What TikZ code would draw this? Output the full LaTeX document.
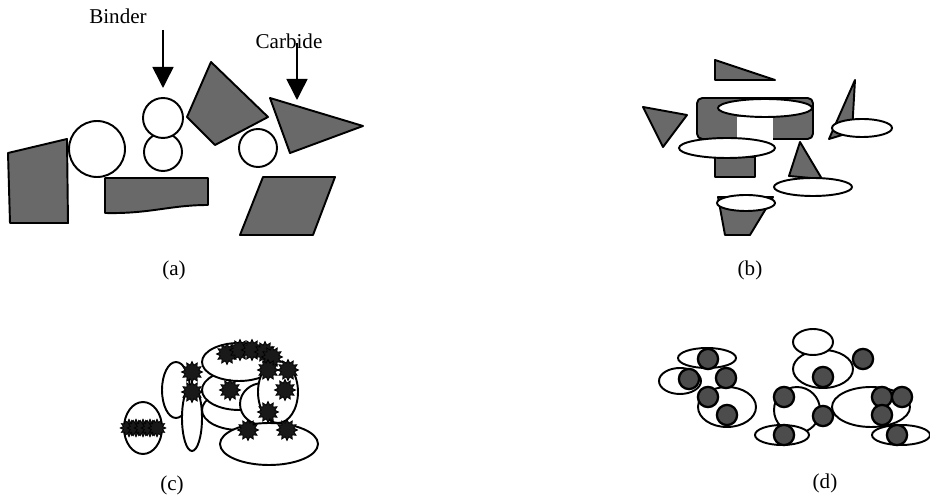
\documentclass[tikz,border=0pt]{standalone}
\usepackage{fontspec}
\setmainfont{Liberation Serif}
\usepackage{tikz}
\usetikzlibrary{arrows.meta, shapes.geometric}
\definecolor{grain}{RGB}{105, 105, 105}

\begin{document}
\begin{tikzpicture}[
  x=0.02cm, y=-0.02cm,
  font=\fontsize{12}{14}\selectfont,
  carbide/.style={draw=black, fill=grain, line width=1.1pt, line join=round},
  binder/.style={draw=black, fill=white, line width=1.1pt},
  spiky/.style={star, star points=12, star point ratio=1.5, draw=black,
                fill=black!90, inner sep=0pt, minimum size=12pt},
  grain dot/.style={circle, draw=black, fill=black!70, line width=1.3pt,
                    inner sep=0pt, minimum size=11.5pt},
  pointer/.style={-{Triangle[length=12pt, width=12pt]}, line width=0.9pt},
  caption/.style={font=\fontsize{12}{14}\selectfont},
]
\useasboundingbox (0,0) rectangle (930,496);

% (a) loose carbide grains and binder particles
\draw[carbide] (8,153) -- (67,139) -- (68,223) -- (10,223) -- cycle;
\draw[binder] (97,149) circle[radius=28];
\draw[carbide] (105,178) -- (208,178) -- (208,205)
  .. controls (170,205) and (150,214) .. (105,213) -- cycle;
\draw[binder] (163,152) circle[radius=19];
\draw[binder] (163,118) circle[radius=20];
\draw[carbide] (211,62) -- (268,117) -- (215,145) -- (187,117) -- cycle;
\draw[binder] (258,148) circle[radius=19];
\draw[carbide] (270,98) -- (363,126) -- (290,153) -- cycle;
\draw[carbide] (263,177) -- (335,177) -- (313,235) -- (240,235) -- cycle;

\node (binder) at (118,16) {Binder};
\node (carbide) at (289,41) {Carbide};
\coordinate (binder tip) at (163,88);
\coordinate (carbide tip) at (297,100);
\draw[pointer] (163,30) -- (binder tip);
\draw[pointer] (297,43) -- (carbide tip);
\node[caption] (cap a) at (174,270) {(a)};

% (b) binder spread over the grains
\draw[carbide] (715,60) -- (775,80) -- (715,80) -- cycle;
\draw[carbide] (643,107) -- (687,115) -- (663,147) -- cycle;
\draw[carbide, rounded corners=3pt] (697,98) rectangle (813,139);
\fill[white] (737,117) rectangle (773,140.5);
\draw[binder] (765,108) ellipse[x radius=47, y radius=9];
\draw[carbide] (715,157) rectangle (755,177);
\draw[binder] (727,148) ellipse[x radius=48, y radius=10];
\draw[carbide] (855,80) -- (829,139) -- (852,132) -- cycle;
\draw[binder] (862,128) ellipse[x radius=30, y radius=9];
\draw[carbide] (800,142) -- (789,176) -- (822,179) -- cycle;
\draw[binder] (813,187) ellipse[x radius=39, y radius=9];
\draw[carbide] (718,197) -- (773,197) -- (750,235) -- (725,235) -- cycle;
\draw[binder] (746,203) ellipse[x radius=29, y radius=8];
\node[caption] (cap b) at (750,270) {(b)};

% (c) coated agglomerates
\draw[binder] (176,390) ellipse[x radius=14, y radius=28];
\draw[binder] (143,428) ellipse[x radius=19, y radius=26];
\draw[binder] (239,410) ellipse[x radius=37, y radius=20];
\draw[binder] (239,390) ellipse[x radius=37, y radius=20];
\draw[binder] (192,418) ellipse[x radius=10, y radius=33];
\draw[binder] (239,362) ellipse[x radius=37, y radius=19];
\draw[binder] (263,404) ellipse[x radius=23, y radius=21];
\draw[binder] (278,392) ellipse[x radius=20, y radius=31];
\draw[binder] (269,444) ellipse[x radius=49, y radius=21];
\foreach \x/\y in {227/354, 240/350, 252/350, 265/352, 272/357, 192/372,
                   192/392, 230/390, 268/370, 288/370, 285/390, 268/412,
                   248/430, 287/430}
  \node[spiky] (c-\x-\y) at (\x,\y) {};
\foreach \x in {129, 136, 143, 150, 157}
  \node[spiky, minimum size=10pt] (band-\x) at (\x,428) {};
\node[caption] (cap c) at (172,485) {(c)};

% (d) granules after pressing
\draw[binder] (707,358) ellipse[x radius=29, y radius=10];
\draw[binder] (680,381) ellipse[x radius=21, y radius=13];
\draw[binder] (727,407) ellipse[x radius=29, y radius=20];
\draw[binder] (823,369) ellipse[x radius=30, y radius=19];
\draw[binder] (813,342) ellipse[x radius=20, y radius=13];
\draw[binder] (797,410) circle[radius=23];
\draw[binder] (782,435) ellipse[x radius=27, y radius=10];
\draw[binder] (871,407) ellipse[x radius=39, y radius=20];
\draw[binder] (901,435) ellipse[x radius=29, y radius=10];
\foreach \x/\y in {708/359, 689/379, 726/378, 708/397, 727/415, 823/377,
                   863/359, 784/397, 823/416, 784/435, 882/397, 902/397,
                   882/415, 897/435}
  \node[grain dot] (d-\x-\y) at (\x,\y) {};
\node[caption] (cap d) at (825,483) {(d)};

\end{tikzpicture}
\end{document}
